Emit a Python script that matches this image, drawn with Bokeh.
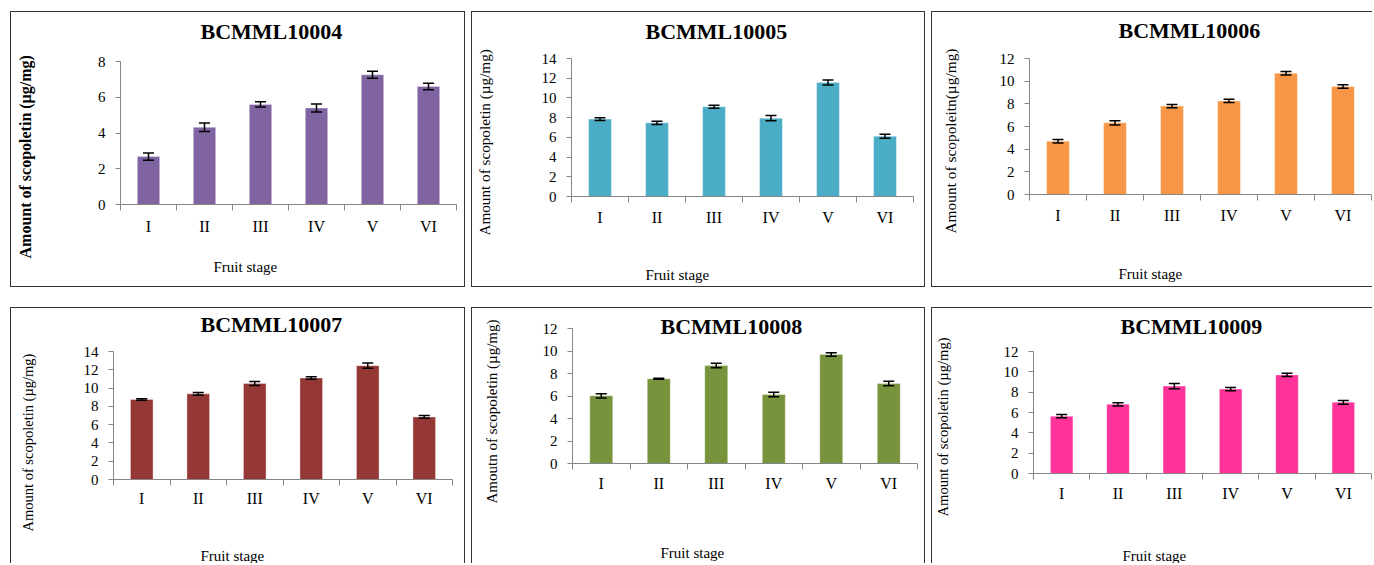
from bokeh.plotting import figure
from bokeh.models import (ColumnDataSource, Whisker, TeeHead, FixedTicker,
                          Range1d, Title, Spacer, LinearAxis)
from bokeh.layouts import row, column
from bokeh.embed import file_html
from bokeh.resources import INLINE

# ---------------- data ----------------
stages = ["I", "II", "III", "IV", "V", "VI"]

titles = ["BCMML10004", "BCMML10005", "BCMML10006",
          "BCMML10007", "BCMML10008", "BCMML10009"]

y_labels = [
    "Amount of scopoletin (µg/mg)",
    "Amount of scopoletin (µg/mg)",
    "Amount of scopoleitn(µg/mg)",
    "Amount of scopoletin (µg/mg)",
    "Amoutn of scopoletin (µg/mg)",
    "Amount of scopoletin (µg/mg)",
]
x_label = "Fruit stage"

mean_10004 = [2.68, 4.32, 5.60, 5.40, 7.26, 6.60]
err_10004 = [0.20, 0.24, 0.15, 0.22, 0.20, 0.18]

mean_10005 = [7.85, 7.47, 9.10, 7.95, 11.57, 6.12]
err_10005 = [0.15, 0.17, 0.15, 0.27, 0.25, 0.20]

mean_10006 = [4.70, 6.32, 7.80, 8.26, 10.70, 9.53]
err_10006 = [0.15, 0.18, 0.15, 0.15, 0.15, 0.16]

mean_10007 = [8.75, 9.37, 10.49, 11.10, 12.45, 6.84]
err_10007 = [0.08, 0.15, 0.22, 0.14, 0.28, 0.15]

mean_10008 = [6.02, 7.53, 8.71, 6.13, 9.69, 7.11]
err_10008 = [0.19, 0.05, 0.20, 0.20, 0.15, 0.20]

mean_10009 = [5.64, 6.81, 8.60, 8.30, 9.70, 7.00]
err_10009 = [0.16, 0.16, 0.26, 0.15, 0.16, 0.18]

y_max = [8, 14, 12, 14, 12, 12]

means = [mean_10004, mean_10005, mean_10006, mean_10007, mean_10008, mean_10009]
errs = [err_10004, err_10005, err_10006, err_10007, err_10008, err_10009]

# ---------------- styling / layout ----------------
colors = ["#8064A2", "#4BACC6", "#F79646", "#953735", "#77933C", "#FF3399"]
FONT = "Liberation Serif"
AXIS_COLOR = "#868686"
BORDER = "1px solid #333333"

# panel box w/h; frame edges FL, FR, FT, FB in panel-local pixels;
# st/sx/sy: gap (px) between frame/axis and title / x label / y label;
# *_off: position of the text start measured along the frame edge.
layout_specs = [
    dict(w=455, h=276, FL=110, FR=446, FT=50, FB=193, st=18, t_so=0, t_off=80,
         xt_so=7, sx=19, xl_off=93, sy=61, yl_off=-54, yfs="16px", bold=True,
         borders="tlrb"),
    dict(w=454, h=276, FL=100, FR=442, FT=47, FB=185, st=15, t_so=0, t_off=74,
         xt_so=6, sx=36, xl_off=74, sy=46, yl_off=-39, yfs="15.2px", bold=False,
         borders="tlrb"),
    dict(w=441, h=276, FL=98, FR=440, FT=47, FB=183, st=16, t_so=0, t_off=89,
         xt_so=6, sx=37, xl_off=89, sy=38, yl_off=-39, yfs="15.4px", bold=False,
         borders="tlb"),
    dict(w=455, h=256, FL=103, FR=442, FT=44, FB=173, st=15, t_so=0, t_off=87,
         xt_so=4, sx=36, xl_off=87, sy=45, yl_off=-52, yfs="14.5px", bold=False,
         borders="tlr"),
    dict(w=454, h=256, FL=101, FR=446, FT=21, FB=156, st=0, t_so=-20, t_off=88,
         xt_so=5, sx=48, xl_off=88, sy=40, yl_off=-40, yfs="15px", bold=False,
         borders="tlr"),
    dict(w=441, h=256, FL=102, FR=440, FT=44, FB=167, st=13, t_so=0, t_off=87,
         xt_so=5, sx=41, xl_off=89, sy=50, yl_off=-43, yfs="14.6px", bold=False,
         borders="tl"),
]


def gap_axis(px, tick):
    # an axis with no visible parts, used only to reserve px of room
    return LinearAxis(ticker=FixedTicker(ticks=[tick]), major_tick_out=px,
                      major_tick_in=0, minor_tick_out=0, minor_tick_in=0,
                      major_tick_line_color="white", major_label_standoff=0,
                      major_label_text_color=None,
                      major_label_text_font_size="0px",
                      axis_line_color=None, axis_label=None)


def make_panel(i):
    spec = layout_specs[i]
    b = spec["borders"]
    bl = 1 if "l" in b else 0
    br = 1 if "r" in b else 0
    bt = 1 if "t" in b else 0
    bb = 1 if "b" in b else 0
    cw = spec["w"] - bl - br
    ch = spec["h"] - bt - bb
    n = len(stages)

    xs = [k + 0.5 for k in range(n)]
    vals = means[i]
    er = errs[i]
    src = ColumnDataSource(dict(
        x=xs, top=vals,
        upper=[v + e for v, e in zip(vals, er)],
        lower=[v - e for v, e in zip(vals, er)],
    ))

    p = figure(width=cw, height=ch, output_backend="svg",
               toolbar_location=None, tools="",
               x_range=Range1d(0, n), y_range=Range1d(0, y_max[i]),
               min_border_left=spec["FL"] - bl,
               min_border_right=(spec["w"] - br) - spec["FR"],
               min_border_top=spec["FT"] - bt,
               min_border_bottom=(spec["h"] - bb) - spec["FB"])
    p.title_location = None
    p.outline_line_color = None
    p.background_fill_color = "white"
    p.border_fill_color = "white"
    p.xgrid.visible = False
    p.ygrid.visible = False

    p.vbar(x="x", top="top", width=0.4, source=src, fill_color=colors[i],
           line_color="white", line_alpha=0.35, line_width=1)
    w = Whisker(base="x", upper="upper", lower="lower", source=src,
                line_color="black", line_width=1.5, level="overlay",
                upper_head=TeeHead(size=11, line_color="black", line_width=1.5),
                lower_head=TeeHead(size=11, line_color="black", line_width=1.5))
    p.add_layout(w)

    # x axis: labels at centres, tick marks at category boundaries
    xa = p.xaxis[0]
    xa.ticker = FixedTicker(ticks=xs, minor_ticks=list(range(n + 1)))
    xa.major_label_overrides = {x: s for x, s in zip(xs, stages)}
    xa.major_tick_out = 0
    xa.major_tick_in = 0
    xa.minor_tick_out = 6
    xa.minor_tick_in = 0
    xa.minor_tick_line_color = AXIS_COLOR
    xa.axis_line_color = AXIS_COLOR
    xa.major_label_standoff = spec["xt_so"]
    xa.major_label_text_font = FONT
    xa.major_label_text_font_size = "16px"
    xa.major_label_text_color = "black"

    ya = p.yaxis[0]
    ya.ticker = FixedTicker(ticks=list(range(0, y_max[i] + 1, 2)))
    ya.major_tick_out = 5
    ya.major_tick_in = 0
    ya.minor_tick_line_color = None
    ya.major_tick_line_color = AXIS_COLOR
    ya.axis_line_color = AXIS_COLOR
    ya.major_label_standoff = 10
    ya.major_label_text_font = FONT
    ya.major_label_text_font_size = "15px"
    ya.major_label_text_color = "black"

    # chart title
    if spec["st"] > 0:
        p.add_layout(gap_axis(spec["st"], n / 2), "above")
    p.add_layout(Title(text=titles[i], align="left", offset=spec["t_off"],
                       standoff=spec["t_so"], text_font=FONT,
                       text_font_size="22px", text_font_style="bold",
                       text_color="black"), "above")

    # x axis title
    p.add_layout(gap_axis(spec["sx"], n), "below")
    p.add_layout(Title(text=x_label, align="left", offset=spec["xl_off"],
                       standoff=0, text_font=FONT, text_font_size="15px",
                       text_font_style="normal", text_color="black"), "below")

    # y axis title
    p.add_layout(gap_axis(spec["sy"], 0), "left")
    p.add_layout(Title(text=y_labels[i], align="left", offset=spec["yl_off"],
                       standoff=0, text_font=FONT, text_font_size=spec["yfs"],
                       text_font_style="bold" if spec["bold"] else "normal",
                       text_color="black"), "left")

    st = {}
    names = {"t": "border-top", "l": "border-left", "r": "border-right",
             "b": "border-bottom"}
    for k, nm in names.items():
        if k in b:
            st[nm] = BORDER
    return column(p, styles=st)


panels = [make_panel(i) for i in range(6)]

row1 = row(Spacer(width=10), panels[0], Spacer(width=6), panels[1],
           Spacer(width=6), panels[2])
row2 = row(Spacer(width=10), panels[3], Spacer(width=6), panels[4],
           Spacer(width=6), panels[5])
page = column(Spacer(height=11), row1, Spacer(height=20), row2)

open("out.html", "w").write(file_html(page, INLINE))
